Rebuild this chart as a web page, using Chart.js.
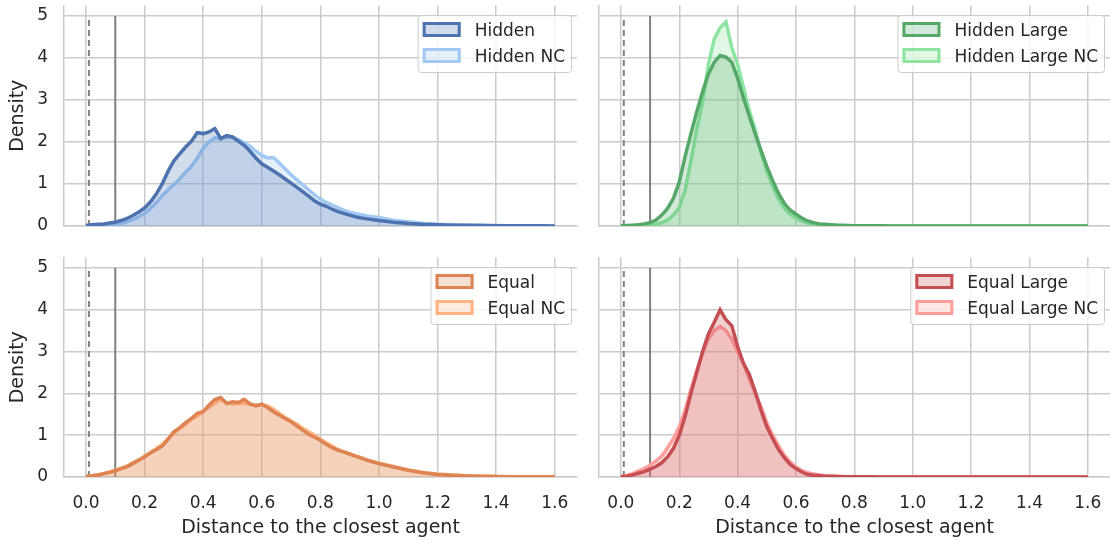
<!DOCTYPE html>
<html lang="en">
<head>
<meta charset="UTF-8">
<title>Distance to the closest agent</title>
<style>
  body { margin: 0; background: #fff; }
  .panel { position: absolute; }
</style>
</head>
<body>
<div class="panel" style="left:0;top:0;width:590px;height:240px"><canvas id="hiddenChart"></canvas></div>
<div class="panel" style="left:590px;top:0;width:520px;height:240px"><canvas id="hiddenLargeChart"></canvas></div>
<div class="panel" style="left:0;top:250px;width:590px;height:293px"><canvas id="equalChart"></canvas></div>
<div class="panel" style="left:590px;top:250px;width:520px;height:293px"><canvas id="equalLargeChart"></canvas></div>

<script src="https://cdn.jsdelivr.net/npm/chart.js"></script>
<script>
// distance grid shared by every curve
const dist = [0, 0.02, 0.04, 0.06, 0.08, 0.1, 0.12, 0.14, 0.16, 0.18,
  0.2, 0.22, 0.24, 0.26, 0.28, 0.3, 0.32, 0.34, 0.36, 0.38,
  0.4, 0.42, 0.44, 0.46, 0.48, 0.5, 0.52, 0.54, 0.56, 0.58,
  0.6, 0.62, 0.64, 0.66, 0.68, 0.7, 0.72, 0.74, 0.76, 0.78,
  0.8, 0.82, 0.84, 0.86, 0.88, 0.9, 0.92, 0.94, 0.96, 0.98,
  1.0, 1.05, 1.1, 1.15, 1.2, 1.25, 1.3, 1.35, 1.4, 1.45, 1.5, 1.55, 1.6];

// density values
const hidden = [0.01, 0.03, 0.04, 0.05, 0.07, 0.09, 0.13, 0.18, 0.25, 0.33,
  0.43, 0.57, 0.76, 1.0, 1.3, 1.55, 1.72, 1.88, 2.02, 2.22,
  2.2, 2.24, 2.32, 2.08, 2.15, 2.12, 2.02, 1.92, 1.78, 1.62,
  1.48, 1.4, 1.31, 1.22, 1.12, 1.02, 0.92, 0.82, 0.71, 0.6,
  0.52, 0.47, 0.4, 0.34, 0.3, 0.26, 0.22, 0.19, 0.17, 0.15,
  0.13, 0.09, 0.06, 0.04, 0.03, 0.02, 0.015, 0.01, 0.008, 0.006, 0.004, 0.003, 0.002];
const hiddenNC = [0.0, 0.01, 0.01, 0.02, 0.03, 0.04, 0.06, 0.1, 0.15, 0.22,
  0.3, 0.42, 0.55, 0.72, 0.86, 0.98, 1.12, 1.28, 1.42, 1.62,
  1.85, 2.0, 2.1, 2.08, 2.1, 2.12, 2.06, 1.98, 1.9, 1.78,
  1.68, 1.62, 1.63, 1.5, 1.36, 1.22, 1.1, 0.98, 0.86, 0.74,
  0.64, 0.56, 0.5, 0.44, 0.38, 0.33, 0.3, 0.27, 0.24, 0.22,
  0.2, 0.14, 0.1, 0.06, 0.04, 0.03, 0.02, 0.015, 0.01, 0.008, 0.005, 0.003, 0.002];
const hiddenLarge = [0.0, 0.01, 0.02, 0.03, 0.05, 0.08, 0.14, 0.26, 0.42, 0.66,
  1.05, 1.65, 2.2, 2.72, 3.2, 3.62, 3.9, 4.06, 4.02, 3.9,
  3.52, 3.05, 2.62, 2.2, 1.8, 1.42, 1.08, 0.78, 0.54, 0.38,
  0.28, 0.19, 0.12, 0.08, 0.05, 0.04, 0.03, 0.02, 0.015, 0.01,
  0.008, 0.006, 0.005, 0.004, 0.003, 0.003, 0.002, 0.002, 0.002, 0.001,
  0.001, 0.001, 0.001, 0.001, 0, 0, 0, 0, 0, 0, 0, 0, 0];
const hiddenLargeNC = [0.0, 0.0, 0.0, 0.01, 0.01, 0.02, 0.04, 0.08, 0.14, 0.26,
  0.44, 0.85, 1.55, 2.3, 2.95, 3.85, 4.45, 4.72, 4.86, 4.25,
  3.85, 3.3, 2.75, 2.3, 1.75, 1.3, 0.95, 0.65, 0.42, 0.28,
  0.18, 0.12, 0.07, 0.05, 0.03, 0.02, 0.015, 0.01, 0.008, 0.006,
  0.005, 0.004, 0.003, 0.002, 0.002, 0.001, 0.001, 0.001, 0.001, 0.001,
  0.001, 0, 0, 0, 0, 0, 0, 0, 0, 0, 0, 0, 0];
const equal = [0.01, 0.03, 0.05, 0.08, 0.11, 0.15, 0.2, 0.25, 0.32, 0.4,
  0.48, 0.58, 0.65, 0.74, 0.9, 1.08, 1.18, 1.3, 1.4, 1.52,
  1.56, 1.72, 1.85, 1.9, 1.76, 1.8, 1.78, 1.86, 1.75, 1.7,
  1.74, 1.66, 1.56, 1.48, 1.4, 1.32, 1.22, 1.12, 1.02, 0.95,
  0.88, 0.78, 0.7, 0.64, 0.6, 0.55, 0.5, 0.45, 0.4, 0.36,
  0.32, 0.24, 0.16, 0.1, 0.06, 0.04, 0.025, 0.015, 0.01, 0.008, 0.005, 0.004, 0.003];
const equalNC = [0.01, 0.03, 0.05, 0.08, 0.12, 0.16, 0.21, 0.26, 0.34, 0.41,
  0.5, 0.58, 0.68, 0.78, 0.92, 1.04, 1.16, 1.26, 1.38, 1.46,
  1.58, 1.66, 1.76, 1.86, 1.78, 1.74, 1.76, 1.76, 1.74, 1.72,
  1.72, 1.7, 1.62, 1.52, 1.42, 1.34, 1.26, 1.16, 1.08, 1.0,
  0.9, 0.82, 0.74, 0.66, 0.6, 0.55, 0.5, 0.46, 0.41, 0.37,
  0.33, 0.25, 0.17, 0.11, 0.07, 0.045, 0.03, 0.02, 0.012, 0.008, 0.005, 0.004, 0.003];
const equalLarge = [0.01, 0.02, 0.05, 0.09, 0.13, 0.19, 0.25, 0.34, 0.48, 0.68,
  1.0, 1.45, 2.0, 2.5, 3.0, 3.42, 3.7, 4.0, 3.76, 3.62,
  3.12, 2.72, 2.45, 2.05, 1.6, 1.2, 0.92, 0.66, 0.46, 0.3,
  0.2, 0.12, 0.06, 0.04, 0.03, 0.02, 0.015, 0.01, 0.008, 0.006,
  0.005, 0.004, 0.003, 0.003, 0.002, 0.002, 0.002, 0.001, 0.001, 0.001,
  0.001, 0.001, 0.001, 0.001, 0.001, 0, 0, 0, 0, 0, 0, 0, 0];
const equalLargeNC = [0.0, 0.04, 0.08, 0.14, 0.2, 0.28, 0.38, 0.5, 0.7, 0.92,
  1.2, 1.6, 2.1, 2.55, 2.95, 3.3, 3.5, 3.6, 3.5, 3.3,
  3.0, 2.7, 2.35, 2.0, 1.68, 1.3, 1.0, 0.75, 0.52, 0.36,
  0.24, 0.15, 0.1, 0.07, 0.05, 0.03, 0.02, 0.015, 0.01, 0.008,
  0.006, 0.005, 0.004, 0.003, 0.002, 0.002, 0.002, 0.001, 0.001, 0.001,
  0.001, 0.001, 0.001, 0.001, 0.001, 0, 0, 0, 0, 0, 0, 0, 0];

// reference distances drawn as vertical lines (dashed, solid)
const thresholds = [0.01, 0.1];

const FONT = '"DejaVu Sans", sans-serif';
const INK = '#262626';
const GRID = '#cccccc';

function withAlpha(hex, a) {
  const n = parseInt(hex.slice(1), 16);
  return `rgba(${(n >> 16) & 255}, ${(n >> 8) & 255}, ${n & 255}, ${a})`;
}

function curve(label, ys, color, order) {
  return {
    label: label,
    data: dist.map((x, i) => ({ x: x, y: ys[i] })),
    borderColor: color,
    backgroundColor: withAlpha(color, 0.25),
    borderWidth: 3.5,
    pointRadius: 0,
    tension: 0,
    fill: 'origin',
    order: order,
    inLegend: true
  };
}

function marker(x, dashed) {
  return {
    data: [{ x: x, y: 0 }, { x: x, y: 5 }],
    borderColor: '#808080',
    borderWidth: 2,
    borderDash: dashed ? [6, 4] : [],
    pointRadius: 0,
    fill: false,
    order: 10
  };
}

// legend box drawn inside the plot, top right, like matplotlib
const boxLegend = {
  id: 'boxLegend',
  afterDraw(chart) {
    const { ctx, chartArea } = chart;
    const items = chart.data.datasets.filter(d => d.inLegend);
    ctx.save();
    ctx.font = '17px ' + FONT;
    const textW = Math.max(...items.map(d => ctx.measureText(d.label).width));
    const w = 57 + textW + 6, h = 57;
    const x = chartArea.right - 6 - w, y = chartArea.top + 9.5;
    ctx.beginPath();
    ctx.roundRect(x + 0.5, y + 0.5, w, h, 3);
    ctx.fillStyle = 'rgba(255,255,255,0.8)';
    ctx.fill();
    ctx.strokeStyle = GRID;
    ctx.lineWidth = 1;
    ctx.stroke();
    items.forEach((d, i) => {
      const sy = y + 7 + i * 26;
      ctx.fillStyle = d.backgroundColor;
      ctx.fillRect(x + 5, sy, 38, 15);
      ctx.strokeStyle = d.borderColor;
      ctx.lineWidth = 3;
      ctx.strokeRect(x + 6.5, sy + 1.5, 35, 12);
      ctx.fillStyle = INK;
      ctx.textBaseline = 'middle';
      ctx.textAlign = 'left';
      ctx.fillText(d.label, x + 57, sy + 9.5);
    });
    ctx.restore();
  }
};

// stop tick labels from pushing the plot area inwards
function noOverflow(s) {
  s.paddingTop = 0;
  s.paddingBottom = 0;
  s.paddingLeft = 0;
  s.paddingRight = 0;
}

function panel(id, first, second, showY, showX) {
  new Chart(document.getElementById(id), {
    type: 'line',
    data: {
      datasets: [
        curve(first[0], first[1], first[2], 1),
        curve(second[0], second[1], second[2], 2),
        marker(thresholds[0], true),
        marker(thresholds[1], false)
      ]
    },
    options: {
      responsive: true,
      maintainAspectRatio: false,
      animation: false,
      layout: { padding: { top: showX ? 7.5 : 5.5, right: showY ? 13 : 0, left: 0, bottom: 0 } },
      plugins: { legend: { display: false }, tooltip: { enabled: false } },
      scales: {
        x: {
          type: 'linear',
          min: -0.075,
          max: 1.676,
          grid: { color: GRID, lineWidth: 1.5, drawTicks: false },
          border: { color: GRID, width: 1.5 },
          ticks: {
            display: showX,
            stepSize: 0.2,
            includeBounds: false,
            autoSkip: false,
            maxRotation: 0,
            padding: 16,
            color: INK,
            font: { family: FONT, size: 17 },
            callback: v => v.toFixed(1)
          },
          title: {
            display: showX,
            text: 'Distance to the closest agent',
            color: INK,
            font: { family: FONT, size: 19 },
            padding: { top: 0, bottom: 4 }
          },
          afterFit: s => { s.height = showX ? 66 : 14; noOverflow(s); }
        },
        y: {
          min: 0,
          max: 5.25,
          grid: { color: GRID, lineWidth: 1.5, drawTicks: false },
          border: { color: GRID, width: 1.5 },
          ticks: {
            display: showY,
            stepSize: 1,
            includeBounds: false,
            padding: 16,
            color: INK,
            font: { family: FONT, size: 17 }
          },
          title: {
            display: showY,
            text: 'Density',
            color: INK,
            font: { family: FONT, size: 19 },
            padding: { top: 6.6, bottom: 0 }
          },
          afterFit: s => { s.width = showY ? 64 : 9; noOverflow(s); }
        }
      }
    },
    plugins: [boxLegend]
  });
}

panel('hiddenChart', ['Hidden', hidden, '#4c72b0'], ['Hidden NC', hiddenNC, '#a1c9f4'], true, false);
panel('hiddenLargeChart', ['Hidden Large', hiddenLarge, '#55a868'], ['Hidden Large NC', hiddenLargeNC, '#8de5a1'], false, false);
panel('equalChart', ['Equal', equal, '#dd8452'], ['Equal NC', equalNC, '#ffb482'], true, true);
panel('equalLargeChart', ['Equal Large', equalLarge, '#c44e52'], ['Equal Large NC', equalLargeNC, '#ff9f9b'], false, true);
</script>
</body>
</html>
